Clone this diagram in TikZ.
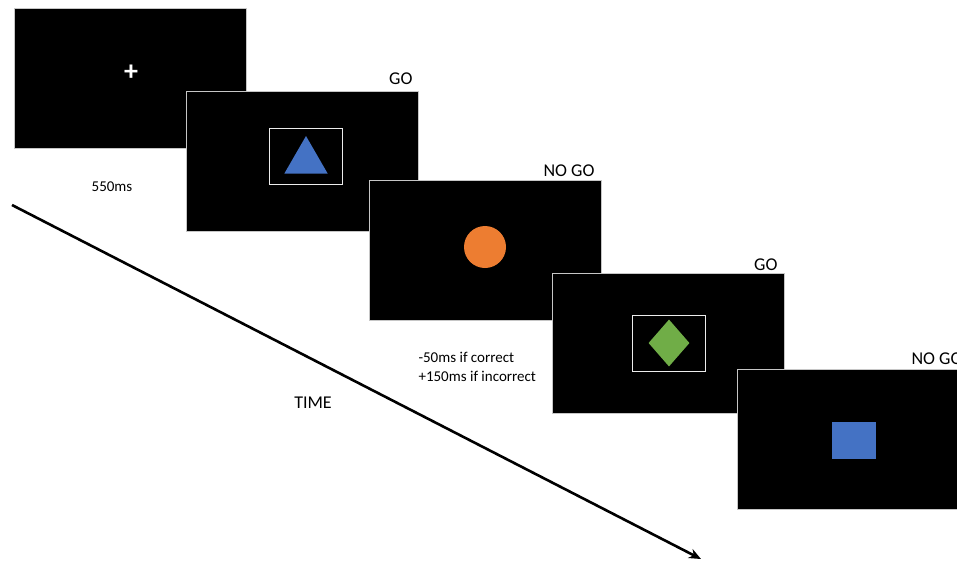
\documentclass[tikz,border=0pt]{standalone}
\usepackage{fontspec}
\setmainfont{Carlito}
\usetikzlibrary{shapes.geometric,arrows.meta}
\definecolor{stimblue}{RGB}{68,114,196}
\definecolor{stimorange}{RGB}{237,125,49}
\definecolor{stimgreen}{RGB}{112,173,71}

\begin{document}
\begin{tikzpicture}[x=1pt, y=-1pt,
  screen/.style={rectangle, draw=gray!45, line width=0.8pt, fill=black, minimum width=232pt, minimum height=140pt, inner sep=0pt},
  cue/.style={rectangle, draw=white!85!gray, line width=0.9pt, minimum width=73pt, minimum height=56pt, inner sep=0pt},
  cond/.style={anchor=base east, font=\fontsize{18}{20}\selectfont},
  note/.style={font=\fontsize{15}{18.4}\selectfont}]
\useasboundingbox (0,0) rectangle (957,560);
\clip (0,0) rectangle (957,560);

% Fixation screen
\node[screen] (s1) at (130,78) {};
\node[text=white, font=\fontsize{28}{28}\selectfont\bfseries, inner sep=0pt] (fix) at (131,73) {+};

% GO trial
\node[screen] (s2) at (302,161) {};
\node[cue] (box2) at (306,156) {};
\node[regular polygon, regular polygon sides=3, fill=stimblue, minimum size=50pt, inner sep=0pt] (tri) at (306,161) {};
\node[cond] (go2) at (416,84) {GO};

% NO GO trial
\node[screen] (s3) at (485,250) {};
\node[circle, fill=stimorange, minimum size=42pt, inner sep=0pt] (circ) at (485,247) {};
\node[cond] (nogo3) at (598,176) {NO GO};

% GO trial
\node[screen] (s4) at (668,343) {};
\node[cue] (box4) at (669,343) {};
\node[diamond, fill=stimgreen, minimum width=41pt, minimum height=47pt, inner sep=0pt] (dia) at (669,343) {};
\node[cond] (go4) at (781,270) {GO};

% NO GO trial
\node[screen] (s5) at (853,439) {};
\node[rectangle, fill=stimblue, minimum width=44pt, minimum height=37pt, inner sep=0pt] (sq) at (854,440) {};
\node[cond, anchor=base west] (nogo5) at (908,364) {NO GO};

% Timing notes
\node[note] (dur) at (112,187) {550ms};
\node[note, anchor=west, align=left] (rule) at (415,367) {-50ms if correct\\+150ms if incorrect};
\node[font=\fontsize{18}{20}\selectfont] (time) at (313,403) {TIME};

% Time axis
\coordinate (t0) at (12,205);
\coordinate (t1) at (701,559);
\draw[line width=2.6pt, -{Stealth[length=12pt, width=10pt]}] (t0) -- (t1);
\end{tikzpicture}
\end{document}
